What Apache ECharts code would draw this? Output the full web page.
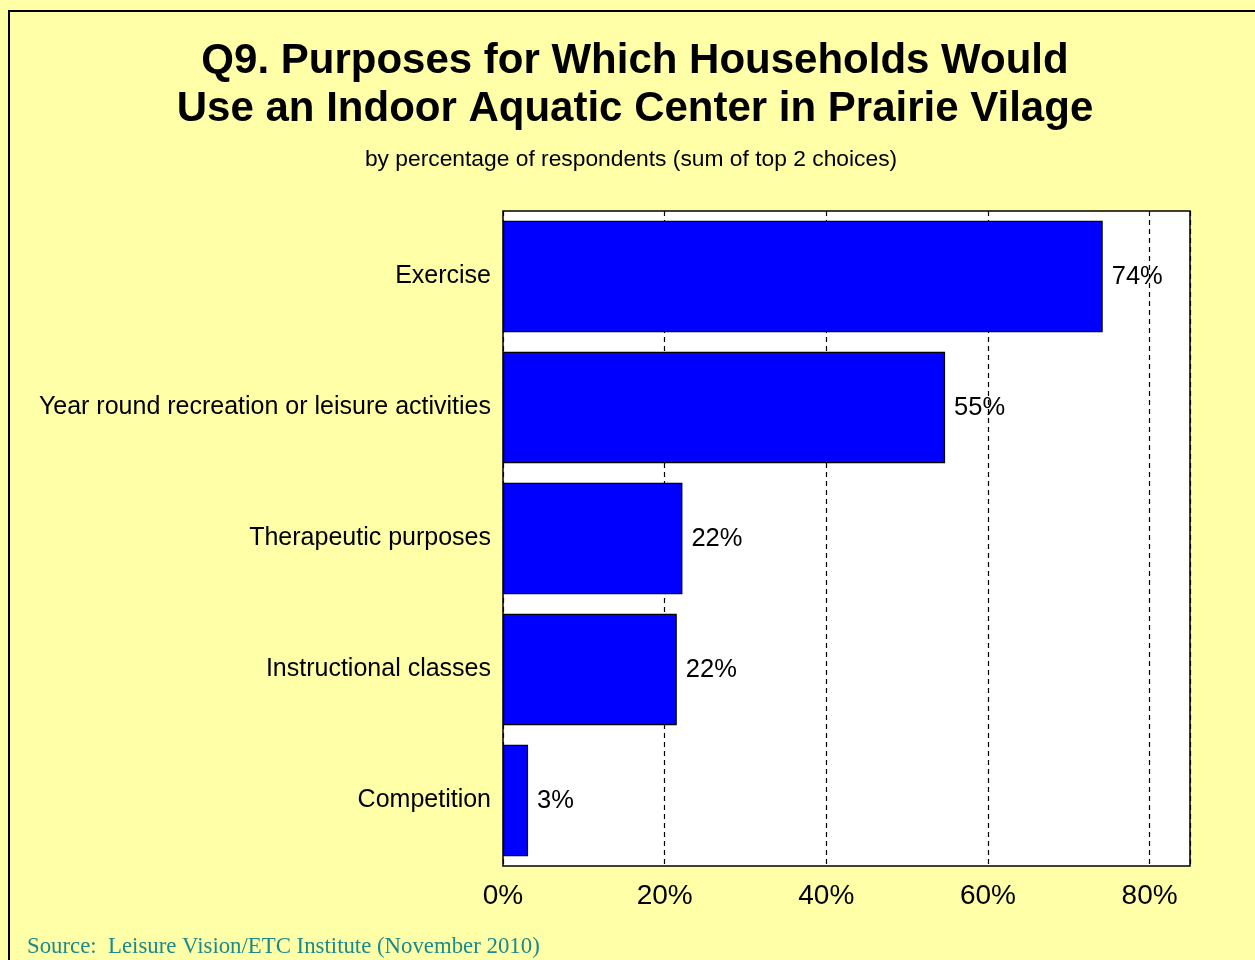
<!DOCTYPE html>
<html>
<head>
<meta charset="utf-8">
<script src="https://cdn.jsdelivr.net/npm/echarts@6/dist/echarts.min.js"></script>
<style>
html,body{margin:0;padding:0;background:#ffffa8;}
#chart{width:1255px;height:960px;}
</style>
</head>
<body>
<div id="chart"></div>
<script>
const categories = ['Exercise', 'Year round recreation or leisure activities', 'Therapeutic purposes', 'Instructional classes', 'Competition'];
const values = [74.2, 54.7, 22.2, 21.5, 3.1];
const tickLabels = ['0%', '20%', '40%', '60%', '80%'];
const titleText = 'Q9. Purposes for Which Households Would\nUse an Indoor Aquatic Center in Prairie Vilage';
const subtitleText = 'by percentage of respondents (sum of top 2 choices)';
const sourceText = 'Source:  Leisure Vision/ETC Institute (November 2010)';

const chart = echarts.init(document.getElementById('chart'));
chart.setOption({
  backgroundColor: '#ffffa8',
  animation: false,
  graphic: [{
    type: 'rect',
    shape: {x: 9, y: 11, width: 1300, height: 1000},
    style: {fill: 'none', stroke: '#000', lineWidth: 2},
    silent: true
  }],
  title: [{
    text: titleText,
    left: 630, top: 32, textAlign: 'center',
    textStyle: {fontFamily: 'Arial, Liberation Sans', fontSize: 42, fontWeight: 'bold', color: '#000', lineHeight: 48}
  }, {
    text: subtitleText,
    left: 626, top: 143, textAlign: 'center',
    textStyle: {fontFamily: 'Arial, Liberation Sans', fontSize: 22.8, fontWeight: 'normal', color: '#000'}
  }, {
    text: sourceText,
    left: 27, top: 936, padding: 0,
    textStyle: {fontFamily: 'Times New Roman, Liberation Serif', fontSize: 22.8, fontWeight: 'normal', color: '#1a8a8a'}
  }],
  grid: {
    left: 503, top: 211, width: 687, height: 655,
    show: true, backgroundColor: '#fff', borderColor: '#000', borderWidth: 1.5,
    containLabel: false
  },
  xAxis: {
    type: 'value', min: 0, max: 85, interval: 20,
    axisLine: {show: false}, axisTick: {show: false},
    axisLabel: {
      margin: 16,
      fontFamily: 'Arial, Liberation Sans', fontSize: 28, color: '#000',
      formatter: function (v) { return v % 20 === 0 ? tickLabels[v / 20] : ''; }
    },
    splitLine: {show: true, lineStyle: {color: '#000', type: [5, 4], width: 1.2}}
  },
  yAxis: {
    type: 'category', data: categories, inverse: true,
    axisLine: {show: false}, axisTick: {show: false},
    axisLabel: {margin: 12, fontFamily: 'Arial, Liberation Sans', fontSize: 25, color: '#000'}
  },
  series: [{
    type: 'bar',
    data: values,
    barCategoryGap: '15%',
    itemStyle: {color: '#0000ff', borderColor: '#000', borderWidth: 1.2},
    label: {
      show: true, position: 'right', distance: 9,
      fontFamily: 'Arial, Liberation Sans', fontSize: 25.5, color: '#000',
      formatter: function (p) { return Math.round(p.value) + '%'; }
    }
  }]
});
</script>
</body>
</html>
